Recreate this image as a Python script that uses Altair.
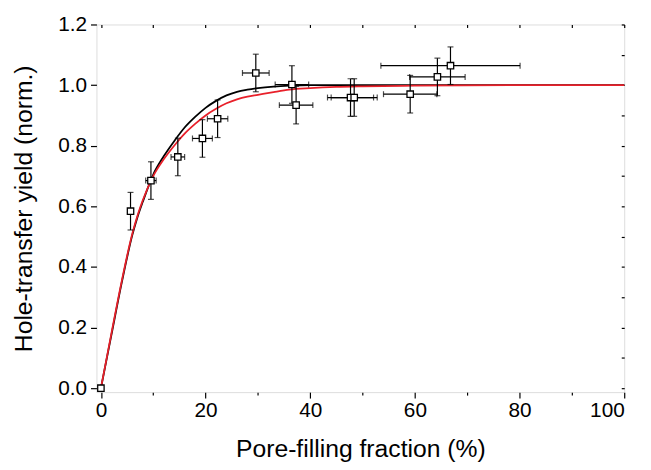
import altair as alt
import pandas as pd

# measured data points (pore-filling fraction %, normalized yield) with errors
pt_x = [0, 5.66, 9.56, 14.7, 19.4, 22.3, 29.6, 36.5, 37.3, 47.7, 48.4, 59.1, 64.3, 66.8]
pt_y = [0, 0.584, 0.685, 0.763, 0.824, 0.889, 1.040, 1.002, 0.934, 0.959, 0.959, 0.970, 1.027, 1.064]
pt_xerr = [0, 0, 1.0, 1.3, 1.9, 1.95, 2.55, 3.2, 3.2, 4.4, 4.4, 5.1, 5.3, 13.3]
pt_yerr = [0, 0.062, 0.062, 0.062, 0.062, 0.062, 0.062, 0.062, 0.062, 0.062, 0.062, 0.062, 0.062, 0.062]

# fitted curves
curve_x = [0, 2, 4, 6, 7, 8, 10, 12, 14, 16, 18, 20, 22, 24, 26, 28, 30, 33, 36, 40, 45, 50, 60, 80, 100]
black_y = [0, 0.175, 0.35, 0.505, 0.565, 0.615, 0.705, 0.765, 0.815, 0.86, 0.895, 0.925, 0.948, 0.966,
           0.978, 0.985, 0.99, 0.995, 0.998, 1.0, 1.0, 1.0, 1.0, 1.0, 1.0]
red_y = [0, 0.18, 0.355, 0.51, 0.57, 0.62, 0.70, 0.755, 0.80, 0.84, 0.872, 0.90, 0.922, 0.94,
         0.953, 0.962, 0.968, 0.977, 0.985, 0.99, 0.994, 0.996, 0.998, 1.0, 1.0]

x_ticks = [0, 10, 20, 30, 40, 50, 60, 70, 80, 90, 100]
y_ticks = [0.0, 0.1, 0.2, 0.3, 0.4, 0.5, 0.6, 0.7, 0.8, 0.9, 1.0, 1.1, 1.2]
X_TITLE = "Pore-filling fraction (%)"
Y_TITLE = "Hole-transfer yield (norm.)"

pts = pd.DataFrame({"x": pt_x, "y": pt_y, "xerr": pt_xerr, "yerr": pt_yerr})
pts["xlo"] = pts.x - pts.xerr
pts["xhi"] = pts.x + pts.xerr
pts["ylo"] = pts.y - pts.yerr
pts["yhi"] = pts.y + pts.yerr

curves = pd.DataFrame({
    "x": curve_x * 2,
    "y": black_y + red_y,
    "fit": ["black"] * len(curve_x) + ["red"] * len(curve_x),
})

FONT = "Liberation Sans"
xscale = alt.Scale(domain=[-0.85, 100], nice=False, zero=False)
yscale = alt.Scale(domain=[-0.013, 1.2], nice=False, zero=False)

xaxis = alt.Axis(
    orient="bottom", values=x_ticks, format="d", domain=False, grid=False,
    labelExpr="datum.value % 20 === 0 ? datum.label : ''",
    tickSize={"condition": {"test": "datum.value % 20 === 0", "value": 6}, "value": 3},
    tickColor="black", tickWidth=1.2, labelColor="black", labelFont=FONT, labelFontSize=21,
    labelPadding=2, titleFont=FONT, titleFontSize=25,
    titleFontWeight="normal", titleColor="black", titleX=267, titleY=57,
    titleBaseline="middle", titleAnchor="middle", titleAlign="center",
)
yaxis = alt.Axis(
    orient="left", values=y_ticks, format=".1f", domain=False, grid=False,
    labelExpr="round(datum.value * 10) % 2 === 0 ? datum.label : ''",
    tickSize={"condition": {"test": "round(datum.value * 10) % 2 === 0", "value": 6}, "value": 3},
    tickColor="black", tickWidth=1.2, labelColor="black", labelFont=FONT, labelFontSize=21,
    labelPadding=4, titleFont=FONT, titleFontSize=25,
    titleFontWeight="normal", titleColor="black", titleX=-74, titleY=186, titleAngle=-90,
    titleBaseline="middle", titleAlign="center", titleAnchor="middle",
)

lines = alt.Chart(curves).mark_line(strokeWidth=1.8, interpolate="monotone").encode(
    x=alt.X("x:Q", scale=xscale, axis=xaxis, title=X_TITLE),
    y=alt.Y("y:Q", scale=yscale, axis=yaxis, title=Y_TITLE),
    color=alt.Color("fit:N", scale=alt.Scale(domain=["black", "red"], range=["#000000", "#e8202a"]), legend=None),
    order=alt.Order("x:Q"),
)

xerr = alt.Chart(pts[pts.xerr > 0]).mark_errorbar(ticks=True, size=6, thickness=1.2, color="black").encode(
    x=alt.X("xlo:Q", scale=xscale, title=X_TITLE), x2="xhi:Q",
    y=alt.Y("y:Q", scale=yscale, title=Y_TITLE)
)
yerr = alt.Chart(pts[pts.yerr > 0]).mark_errorbar(ticks=True, size=6, thickness=1.2, color="black").encode(
    y=alt.Y("ylo:Q", scale=yscale, title=Y_TITLE), y2="yhi:Q",
    x=alt.X("x:Q", scale=xscale, title=X_TITLE)
)
squares = alt.Chart(pts).mark_square(size=42, color="white", stroke="black", strokeWidth=1.3, opacity=1).encode(
    x=alt.X("x:Q", scale=xscale, title=X_TITLE), y=alt.Y("y:Q", scale=yscale, title=Y_TITLE)
)

base = alt.layer(lines, xerr, yerr, squares)

# mirror ticks on the top and right frame (inward)
mirror = alt.Chart(pts).mark_point(opacity=0).encode(
    x=alt.X("x:Q", scale=xscale, axis=alt.Axis(orient="top", values=x_ticks, labels=False, domain=False,
                                               grid=False, title=None, tickSize=3, offset=-3,
                                               tickColor="black", tickWidth=1.2)),
    y=alt.Y("y:Q", scale=yscale, axis=alt.Axis(orient="right", values=y_ticks, labels=False, domain=False,
                                               grid=False, title=None, tickSize=3, offset=-3,
                                               tickColor="black", tickWidth=1.2)),
)

chart = alt.layer(base, mirror).resolve_axis(x="independent", y="independent").properties(
    width=534, height=372,
    autosize=alt.AutoSizeParams(type="none"),
    padding={"left": 89.5, "top": 14, "right": 19, "bottom": 68},
).configure_view(stroke="black", strokeWidth=1.2).configure(background="white")

chart.save("out.html", embed_options={"renderer": "svg", "actions": False})
